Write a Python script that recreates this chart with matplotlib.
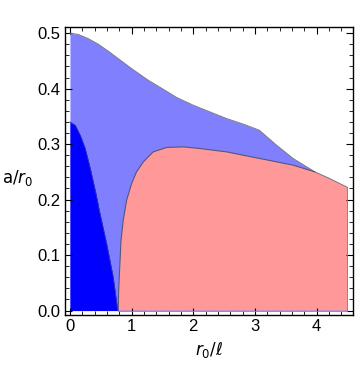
import numpy as np
import matplotlib
matplotlib.use('Agg')
import matplotlib.pyplot as plt
from matplotlib.ticker import MultipleLocator, FormatStrFormatter

# outer boundary of the shaded region (light blue top edge)
outer_x = [0.0, 0.135, 0.297, 0.459, 0.621, 0.783, 1.0, 1.27, 1.54, 1.73, 2.0, 2.27, 2.54, 2.81, 3.07,
           3.35, 3.62, 3.97, 4.21, 4.5]
outer_y = [0.500, 0.4976, 0.490, 0.480, 0.4675, 0.454, 0.436, 0.415, 0.397, 0.384, 0.370, 0.358, 0.346,
           0.336, 0.325, 0.298, 0.274, 0.250, 0.238, 0.222]

# dark blue region: right edge x as a function of a/r0
dark_y = [0.340, 0.334, 0.316, 0.292, 0.256, 0.208, 0.181, 0.121, 0.061, 0.0]
dark_x = [0.0, 0.086, 0.167, 0.248, 0.330, 0.427, 0.475, 0.594, 0.700, 0.775]

# pink region: left rising edge, then top edge up to where it meets the outer curve
pink_left_x = [0.783, 0.788, 0.800, 0.827, 0.864, 0.919, 1.0, 1.08, 1.19, 1.35, 1.57]
pink_left_y = [0.0, 0.030, 0.061, 0.125, 0.163, 0.199, 0.229, 0.250, 0.268, 0.286, 0.294]
pink_top_x = [1.84, 2.11, 2.54, 3.08, 3.62, 3.97]
pink_top_y = [0.295, 0.292, 0.286, 0.274, 0.262, 0.250]

fig = plt.figure(figsize=(3.6, 3.68), dpi=100)
ax = fig.add_axes([0.1806, 0.1440, 0.8, 0.7826])

edge = '#55557a'
# light blue: everything under the outer curve
ax.fill_between(outer_x, 0, outer_y, color='#8080ff', linewidth=0)
ax.plot(outer_x, outer_y, color='#777788', lw=0.7)

# pink region
ox = np.array(outer_x)
oy = np.array(outer_y)
tail = ox > 3.97
px = np.concatenate([pink_left_x, pink_top_x, ox[tail], [4.5]])
py = np.concatenate([pink_left_y, pink_top_y, oy[tail], [0.0]])
ax.fill(px, py, color='#ff9999', linewidth=0)
ax.plot(np.concatenate([pink_left_x, pink_top_x]), np.concatenate([pink_left_y, pink_top_y]),
        color=edge, lw=0.8)
ax.plot([4.5, 4.5], [oy[-1], 0], color='#aa7777', lw=0.6)
ax.plot([pink_left_x[0], 4.5], [0, 0], color='#aa7777', lw=0.6)

# dark blue region
ax.fill_betweenx(dark_y, 0, dark_x, color='#0000ff', linewidth=0)
ax.plot(dark_x, dark_y, color='#3333aa', lw=0.6)

ax.set_xlim(-0.08, 4.59)
ax.set_ylim(-0.008, 0.511)
ax.xaxis.set_major_locator(MultipleLocator(1))
ax.xaxis.set_minor_locator(MultipleLocator(0.2))
ax.yaxis.set_major_locator(MultipleLocator(0.1))
ax.yaxis.set_minor_locator(MultipleLocator(0.02))
ax.yaxis.set_major_formatter(FormatStrFormatter('%.1f'))
ax.tick_params(which='both', direction='in', top=True, right=True, labelsize=12, pad=3)
ax.tick_params(which='major', length=5, width=0.8)
ax.tick_params(which='minor', length=3, width=0.6)
for s in ax.spines.values():
    s.set_linewidth(1.0)
for lab in ax.get_xticklabels() + ax.get_yticklabels():
    lab.set_family('Liberation Sans')

fig.text(0.005, 0.515, r'$\mathrm{a}/r_0$', fontsize=12, va='center', ha='left')
fig.text(0.58, 0.05, r'$r_0/\ell$', fontsize=12, va='center', ha='center')

fig.savefig('out.png', dpi=100)
